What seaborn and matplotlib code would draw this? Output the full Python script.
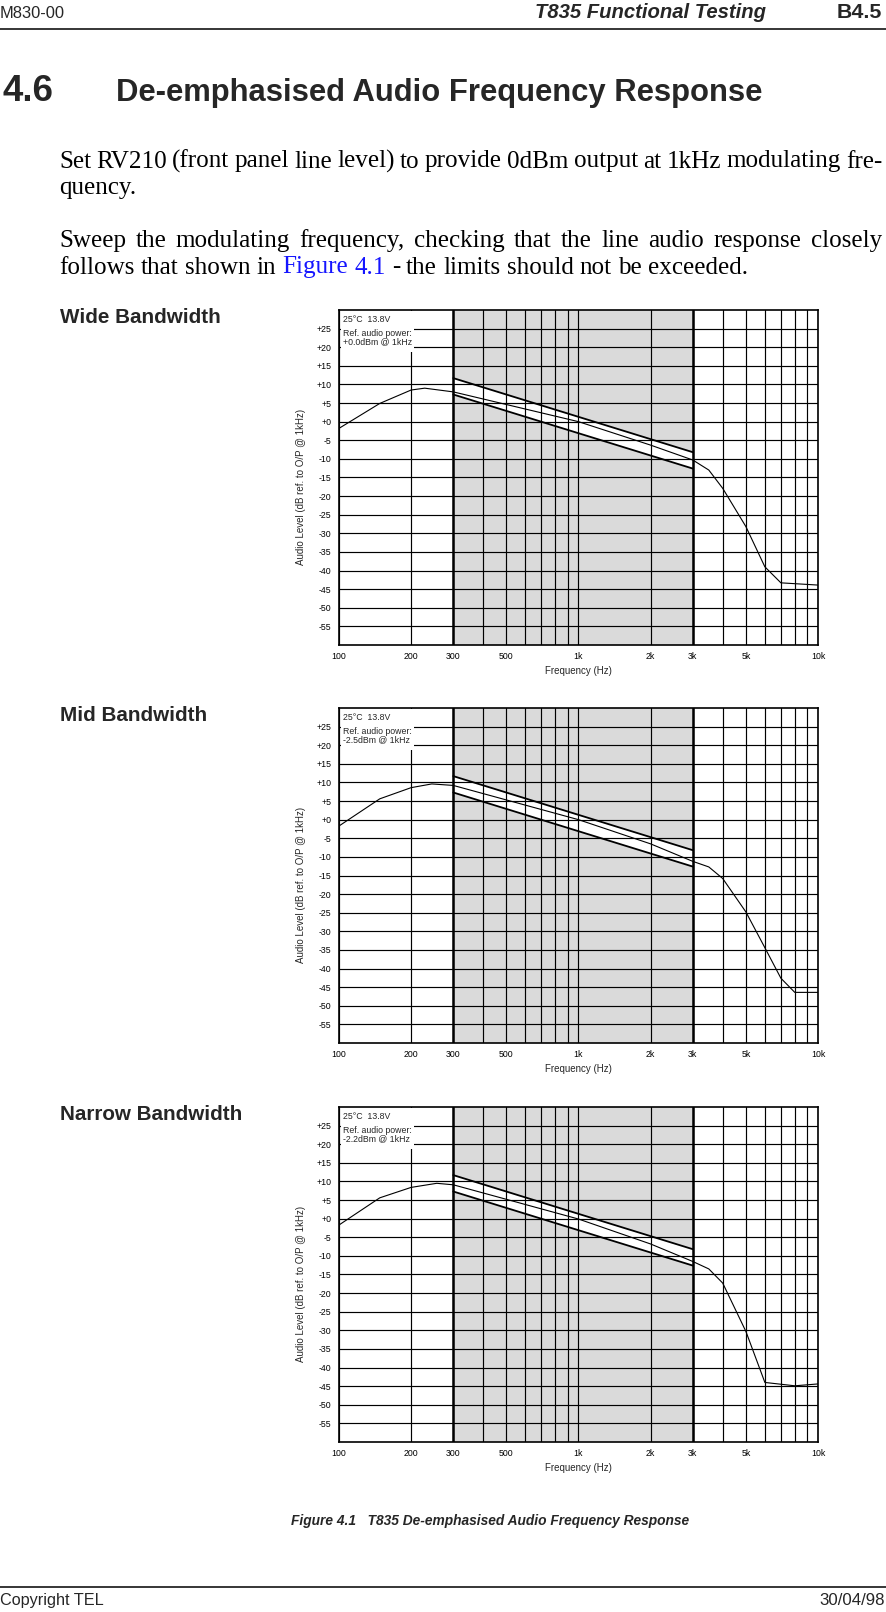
import numpy as np
import pandas as pd
import matplotlib
matplotlib.use("Agg")
import matplotlib.pyplot as plt
from matplotlib.lines import Line2D
from matplotlib.patches import Rectangle
from matplotlib.ticker import FixedLocator, FixedFormatter, NullFormatter
import seaborn as sns

# ---------------- data ----------------
panel_names = ["Wide Bandwidth", "Mid Bandwidth", "Narrow Bandwidth"]
ref_power_text = ["+0.0dBm @ 1kHz", "-2.5dBm @ 1kHz", "-2.2dBm @ 1kHz"]
conditions_text = "25°C  13.8V"
ref_label_text = "Ref. audio power:"

wide_freq = [100, 148, 200, 228, 300, 1000, 2000, 3000, 3500, 4000, 5000, 6000, 7000, 10000]
wide_db = [-1.8, 4.9, 8.5, 9.0, 8.0, 0.0, -6.3, -10.3, -13.0, -17.9, -28.2, -39.0, -43.3, -43.9]

mid_freq = [100, 148, 200, 244, 300, 1000, 2000, 3000, 3500, 4000, 5000, 6000, 7000, 8000, 10000]
mid_db = [-1.7, 5.6, 8.6, 9.6, 9.2, 0.0, -6.5, -11.2, -12.7, -15.8, -24.8, -34.4, -42.6, -46.4, -46.4]

narrow_freq = [100, 148, 200, 256, 300, 1000, 2000, 3000, 3500, 4000, 5000, 6000, 8000, 10000]
narrow_db = [-1.7, 5.6, 8.4, 9.5, 9.1, -0.1, -6.8, -11.5, -13.5, -17.3, -30.3, -44.0, -44.9, -44.4]

limit_freq = [300, 3000]
upper_limit_db = [11.7, -8.2]
lower_limit_db = [7.3, -12.6]
shade_band = [300, 3000]

y_ticks = list(range(-55, 30, 5))
y_tick_labels = [f"{v:+d}" for v in y_ticks]
x_label_ticks = [100, 200, 300, 500, 1000, 2000, 3000, 5000, 10000]
x_tick_labels = ["100", "200", "300", "500", "1k", "2k", "3k", "5k", "10k"]
x_grid_ticks = [200, 300, 400, 500, 600, 700, 800, 900,
                2000, 3000, 4000, 5000, 6000, 7000, 8000, 9000]

body_line1 = "Set RV210 (front panel line level) to provide 0dBm output at 1kHz modulating fre-"
body_line2 = "quency."
body_line3 = "Sweep the modulating frequency, checking that the line audio response closely"
body_line4 = [("follows that shown in", "black"), ("Figure 4.1", "#1515ff"),
              ("- the limits should not be exceeded.", "black")]

# ---------------- page setup ----------------
W, H, DPI = 887, 1612, 100
sns.set_style("white")
plt.rcParams["font.family"] = ["Liberation Sans", "DejaVu Sans"]
SERIF = ["Liberation Serif", "DejaVu Serif"]

fig = plt.figure(figsize=(W / DPI, H / DPI), dpi=DPI)
fig.patch.set_facecolor("white")
renderer = fig.canvas.get_renderer()


def fpos(x, y):
    return (x / W, 1 - y / H)


def fit_text(x, y, s, width, ha="left", va="baseline", **kw):
    kw.setdefault("fontsize", 12)
    t = fig.text(*fpos(x, y), s, ha=ha, va=va, **kw)
    w = t.get_window_extent(renderer).width
    t.set_fontsize(t.get_fontsize() * width / w)
    return t


def hline(y, lw=1.1):
    fig.add_artist(Line2D([0, 1], [1 - y / H] * 2, transform=fig.transFigure,
                          color="black", lw=lw))


# header
fit_text(0, 18.5, "M830-00", 65)
fit_text(766, 18.5, "T835 Functional Testing", 230, ha="right", weight="bold", style="italic")
fit_text(882, 18.5, "B4.5", 45, ha="right", weight="bold")
hline(28.5)

# section title
fit_text(3, 101, "4.6", 51, weight="bold")
fit_text(116, 101, "De-emphasised Audio Frequency Response", 642, weight="bold")

# body text (serif, word-placed for justification)
probe = fig.text(0, 0, "follows that shown in Figure 4.1 - the limits should not be exceeded.",
                 fontsize=12, family=SERIF)
body_fs = 12 * 690 / probe.get_window_extent(renderer).width
probe.remove()


def text_width(s, fs, family):
    t = fig.text(0, 0, s, fontsize=fs, family=family)
    w = t.get_window_extent(renderer).width
    t.remove()
    return w


space_w = text_width("n n", body_fs, SERIF) - text_width("nn", body_fs, SERIF)


def place_words(x0, y, segments, justify_to=None):
    items = []
    for seg, color in segments:
        for word in seg.split(" "):
            t = fig.text(0, 0, word, fontsize=body_fs, family=SERIF, color=color,
                         ha="left", va="baseline")
            items.append((t, t.get_window_extent(renderer).width))
    total = sum(w for _, w in items)
    gap = space_w if justify_to is None else (justify_to - x0 - total) / (len(items) - 1)
    x = x0
    for t, w in items:
        t.set_position(fpos(x, y))
        x += w + gap


place_words(59, 167.5, [(body_line1, "black")], justify_to=882)
place_words(59, 194, [(body_line2, "black")])
place_words(59, 247, [(body_line3, "black")], justify_to=882)
place_words(59, 273.5, body_line4)

# ---------------- charts ----------------
series = [(wide_freq, wide_db), (mid_freq, mid_db), (narrow_freq, narrow_db)]
axes_tops = [310, 708, 1107]
AX_LEFT, AX_W, AX_H = 339, 479, 335

label_fs = None
for i, top in enumerate(axes_tops):
    # panel label
    t = fig.text(*fpos(60, top + 13), panel_names[i], ha="left", va="baseline", weight="bold",
                 fontsize=12)
    if label_fs is None:
        label_fs = 12 * 160 / t.get_window_extent(renderer).width
    t.set_fontsize(label_fs)

    ax = fig.add_axes([AX_LEFT / W, 1 - (top + AX_H) / H, AX_W / W, AX_H / H])
    ax.set_xscale("log")
    ax.set_xlim(100, 10000)
    ax.set_ylim(-60, 30)

    # shaded test band and white tolerance window
    ax.axvspan(shade_band[0], shade_band[1], color="#dadada", lw=0, zorder=1)
    ax.fill_between(limit_freq, lower_limit_db, upper_limit_db, color="white", lw=0, zorder=1.2)

    # ticks & grid
    ax.set_yticks(y_ticks)
    ax.set_yticklabels(y_tick_labels)
    ax.xaxis.set_major_locator(FixedLocator(x_label_ticks))
    ax.xaxis.set_major_formatter(FixedFormatter(x_tick_labels))
    ax.xaxis.set_minor_locator(FixedLocator(x_grid_ticks))
    ax.xaxis.set_minor_formatter(NullFormatter())
    ax.set_axisbelow("line")
    ax.grid(True, axis="y", which="major", color="black", lw=0.85)
    ax.grid(True, axis="x", which="both", color="black", lw=0.85)
    ax.tick_params(axis="both", which="both", length=0, labelsize=6.3, colors="black")
    ax.tick_params(axis="x", pad=5)
    ax.tick_params(axis="y", pad=5.5)
    for sp in ax.spines.values():
        sp.set_color("black")
        sp.set_linewidth(1.2)

    for f in shade_band:
        ax.axvline(f, color="black", lw=1.8, zorder=2)

    # limit lines
    lim_df = pd.DataFrame({"freq": limit_freq, "upper": upper_limit_db, "lower": lower_limit_db})
    sns.lineplot(data=lim_df, x="freq", y="upper", ax=ax, color="black", lw=1.3,
                 estimator=None, sort=False, zorder=3)
    sns.lineplot(data=lim_df, x="freq", y="lower", ax=ax, color="black", lw=1.3,
                 estimator=None, sort=False, zorder=3)

    # nominal response
    f, d = series[i]
    df = pd.DataFrame({"freq": f, "db": d})
    sns.lineplot(data=df, x="freq", y="db", ax=ax, color="black", lw=0.8,
                 estimator=None, sort=False, zorder=4)

    ax.set_xlabel("Frequency (Hz)", fontsize=7, va="center")
    ax.xaxis.set_label_coords(0.5, -0.079)
    ax.set_ylabel("Audio Level (dB ref. to O/P @ 1kHz)", fontsize=7, va="center")
    ax.yaxis.set_label_coords(-0.080, 0.472)

    # annotation box
    ax.add_patch(Rectangle((0.004, 0.876), 0.152, 0.121, transform=ax.transAxes,
                           facecolor="white", edgecolor="none", zorder=5))
    ax.text(0.009, 0.973, conditions_text, transform=ax.transAxes, fontsize=6.3,
            ha="left", va="center", zorder=6)
    ax.text(0.009, 0.930, ref_label_text, transform=ax.transAxes, fontsize=6.3,
            ha="left", va="center", zorder=6)
    ax.text(0.009, 0.906, ref_power_text[i], transform=ax.transAxes, fontsize=6.3,
            ha="left", va="center", zorder=6)

# caption & footer
fit_text(291, 1525, "Figure 4.1   T835 De-emphasised Audio Frequency Response", 399,
         weight="bold", style="italic")
hline(1587)
fit_text(0, 1605, "Copyright TEL", 104)
fit_text(885, 1605, "30/04/98", 65, ha="right")

fig.savefig("out.png", dpi=DPI, facecolor="white")
